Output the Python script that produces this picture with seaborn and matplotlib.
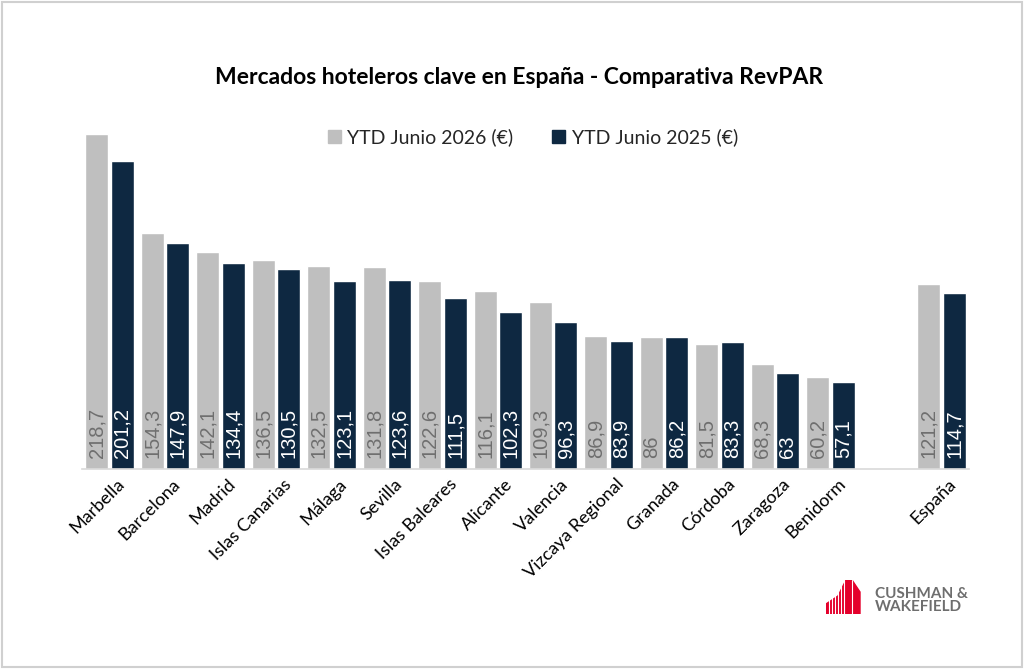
import matplotlib
matplotlib.use("Agg")
import matplotlib.pyplot as plt
from matplotlib.patches import Rectangle, Polygon
from matplotlib.transforms import ScaledTranslation
import seaborn as sns
import pandas as pd
import numpy as np

cities = ["Marbella", "Barcelona", "Madrid", "Islas Canarias", "Málaga", "Sevilla",
          "Islas Baleares", "Alicante", "Valencia", "Vizcaya Regional", "Granada",
          "Córdoba", "Zaragoza", "Benidorm", "España"]
revpar_2026 = [218.7, 154.3, 142.1, 136.5, 132.5, 131.8, 122.6, 116.1, 109.3,
               86.9, 86.0, 81.5, 68.3, 60.2, 121.2]
revpar_2025 = [201.2, 147.9, 134.4, 130.5, 123.1, 123.6, 111.5, 102.3, 96.3,
               83.9, 86.2, 83.3, 63.0, 57.1, 114.7]
series = ["YTD Junio 2026 (€)", "YTD Junio 2025 (€)"]
title = "Mercados hoteleros clave en España - Comparativa RevPAR"

GREY = "#BFBFBF"
NAVY = "#0E2841"

sns.set_theme(style="white")
plt.rcParams["font.family"] = ["Lato", "DejaVu Sans"]

df = pd.DataFrame({
    "Mercado": cities * 2,
    "RevPAR": revpar_2026 + revpar_2025,
    "Periodo": [series[0]] * len(cities) + [series[1]] * len(cities),
})
order = cities[:-1] + [" "] + [cities[-1]]

fig = plt.figure(figsize=(10.24, 6.69), dpi=100)
ax = fig.add_axes([82 / 1024, 1 - 469 / 669, (969 - 82) / 1024, (469 - 117) / 669])

sns.barplot(data=df, x="Mercado", y="RevPAR", hue="Periodo", order=order,
            hue_order=series, palette=[GREY, NAVY], width=0.92, gap=0.1,
            saturation=1, ax=ax, legend=False, errorbar=None)

ax.set_xlim(-0.5, len(order) - 0.5)
ax.set_ylim(0, 230)
ax.set_xlabel("")
ax.set_ylabel("")
ax.set_yticks([])
for s in ["top", "right", "left"]:
    ax.spines[s].set_visible(False)
ax.spines["bottom"].set_color("#D9D9D9")
ax.spines["bottom"].set_linewidth(1.2)
ax.tick_params(axis="x", length=0, pad=5)
ax.set_xticks(range(len(order)))
ax.set_xticklabels(order, rotation=45, ha="right", rotation_mode="anchor",
                   fontsize=13, color="#000000")
offset = ScaledTranslation(7 / 100, 0, fig.dpi_scale_trans)
for lbl in ax.get_xticklabels():
    lbl.set_transform(lbl.get_transform() + offset)

def fmt(v):
    return f"{v:g}".replace(".", ",")

for cont, tcol in zip(ax.containers, ["#6F6F6F", "white"]):
    for bar in cont:
        h = bar.get_height()
        if h is None or np.isnan(h) or h <= 0:
            continue
        ax.annotate(fmt(h), (bar.get_x() + bar.get_width() / 2, 0),
                    xytext=(0, 8), textcoords="offset points",
                    rotation=90, ha="center", va="bottom",
                    fontsize=14.5, color=tcol, family=["Liberation Sans", "DejaVu Sans"])

fig.text(519 / 1024, 1 - 78 / 669, title, ha="center", va="center",
         fontsize=16.5, fontweight="bold", color="#000000")

handles = [Rectangle((0, 0), 1, 1, color=GREY), Rectangle((0, 0), 1, 1, color=NAVY)]
fig.legend(handles, series, loc="center", bbox_to_anchor=(533 / 1024, 1 - 137 / 669),
           ncol=2, frameon=False, fontsize=14, handlelength=0.65, handleheight=0.65,
           handletextpad=0.35, columnspacing=2.0)

# Logo
lax = fig.add_axes([826 / 1024, 1 - 614 / 669, 42 / 1024, 34 / 669])
lax.set_xlim(0, 42)
lax.set_ylim(0, 34)
lax.axis("off")
red = "#E4002B"
poly = Polygon([(0, 0), (0, 10), (12, 18), (20, 34), (26, 34), (34, 22), (34, 0)],
               closed=True, color=red)
lax.add_patch(poly)
for xv in [3, 6, 9, 12, 15, 18]:
    lax.plot([xv, xv], [0, 34], color="white", lw=0.8)
lax.plot([26, 26], [0, 34], color="white", lw=0.8)
fig.text(875 / 1024, 1 - 594 / 669, "CUSHMAN &", ha="left", va="center",
         fontsize=11, fontweight="bold", color="#6E6E6E")
fig.text(875 / 1024, 1 - 607 / 669, "WAKEFIELD", ha="left", va="center",
         fontsize=11, fontweight="bold", color="#6E6E6E")

# Border
fig.patches.append(Rectangle((2 / 1024, 2 / 669), 1 - 4 / 1024, 1 - 4 / 669,
                             transform=fig.transFigure, fill=False,
                             edgecolor="#D0D0D0", lw=1.5))

fig.savefig("out.png", dpi=100, facecolor="white")
